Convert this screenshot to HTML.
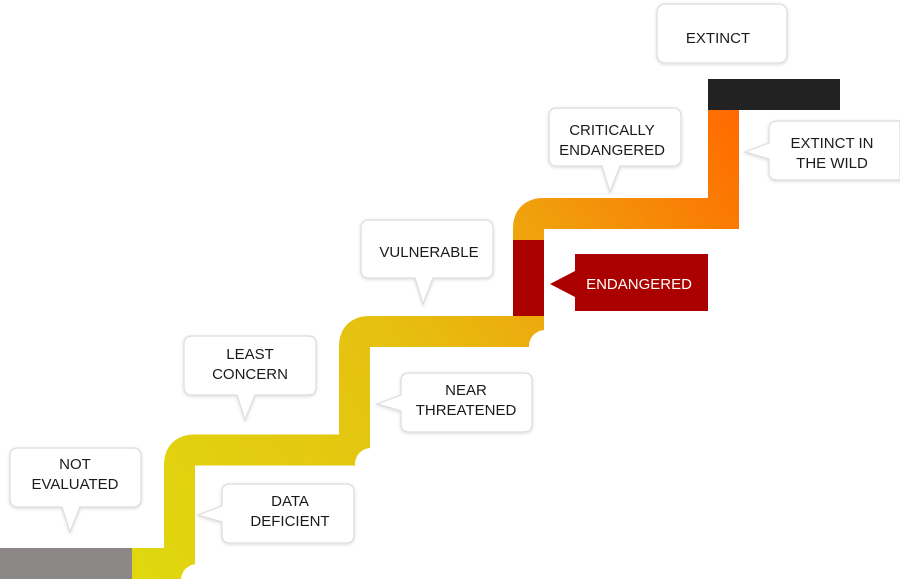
<!DOCTYPE html>
<html><head><meta charset="utf-8"><style>
html,body{margin:0;padding:0;background:#fff;}
svg{display:block;}
text{font-family:"Liberation Sans",sans-serif;font-size:15px;fill:#1a1a1a;text-anchor:middle;}
</style></head><body>
<svg width="900" height="579" viewBox="0 0 900 579" xmlns="http://www.w3.org/2000/svg">
<defs>
<linearGradient id="g" gradientUnits="userSpaceOnUse" x1="140" y1="560" x2="740" y2="120">
<stop offset="0" stop-color="#e0d70f"/>
<stop offset="0.45" stop-color="#e6c010"/>
<stop offset="0.7" stop-color="#f0a00c"/>
<stop offset="1" stop-color="#ff6a00"/>
</linearGradient>
<filter id="s" x="-20%" y="-20%" width="140%" height="140%"><feDropShadow dx="0" dy="1" stdDeviation="1.5" flood-color="#000" flood-opacity="0.15"/></filter>
</defs>
<rect x="0" y="548" width="132" height="31" fill="#8c8887"/>
<path d="M132,563.5 H179.5 V465 Q179.5,450 194.5,450 H354.5 V346.5 Q354.5,331.5 369.5,331.5 H528.5 V228.5 Q528.5,213.5 543.5,213.5 H723.5 V110" fill="none" stroke="url(#g)" stroke-width="31"/>
<rect x="513" y="240" width="31" height="76" fill="#aa0000"/>
<rect x="708" y="79" width="132" height="31" fill="#222"/>
<circle cx="197" cy="580" r="16" fill="#fff"/>
<circle cx="371" cy="464" r="16" fill="#fff"/>
<circle cx="545" cy="346" r="16" fill="#fff"/>
<g fill="#fff" stroke="#dcdcdc" stroke-width="1.2" filter="url(#s)">
<path d="M18,448 H133 Q141,448 141,456 V499 Q141,507 133,507 H80 L70,532 L62,507 H18 Q10,507 10,499 V456 Q10,448 18,448 Z"/>
<path d="M230,484 H346 Q354,484 354,492 V535 Q354,543 346,543 H230 Q222,543 222,535 V522 L198,515 L222,506 V492 Q222,484 230,484 Z"/>
<path d="M192,336 H308 Q316,336 316,344 V387 Q316,395 308,395 H255 L245,420 L237,395 H192 Q184,395 184,387 V344 Q184,336 192,336 Z"/>
<path d="M409,373 H524 Q532,373 532,381 V424 Q532,432 524,432 H409 Q401,432 401,424 V411 L377,404 L401,395 V381 Q401,373 409,373 Z"/>
<path d="M369,220 H485 Q493,220 493,228 V270 Q493,278 485,278 H433 L423,304 L415,278 H369 Q361,278 361,270 V228 Q361,220 369,220 Z"/>
<path d="M557,108 H673 Q681,108 681,116 V158 Q681,166 673,166 H620 L610,192 L602,166 H557 Q549,166 549,158 V116 Q549,108 557,108 Z"/>
<path d="M777,121 H900 V180 H777 Q769,180 769,172 V159 L745,152 L769,143 V129 Q769,121 777,121 Z"/>
<rect x="657" y="4" width="130" height="59" rx="8"/>
</g>
<path d="M575,254 H708 V311 H575 V297 L550,284 L575,271 Z" fill="#aa0000"/>
<text x="75" y="469">NOT</text><text x="75" y="489">EVALUATED</text>
<text x="290" y="506">DATA</text><text x="290" y="526">DEFICIENT</text>
<text x="250" y="359">LEAST</text><text x="250" y="379">CONCERN</text>
<text x="466" y="395">NEAR</text><text x="466" y="415">THREATENED</text>
<text x="429" y="257">VULNERABLE</text>
<text x="639" y="289" style="fill:#fff">ENDANGERED</text>
<text x="612" y="135">CRITICALLY</text><text x="612" y="155">ENDANGERED</text>
<text x="832" y="148">EXTINCT IN</text><text x="832" y="168">THE WILD</text>
<text x="718" y="43">EXTINCT</text>
</svg>
</body></html>
